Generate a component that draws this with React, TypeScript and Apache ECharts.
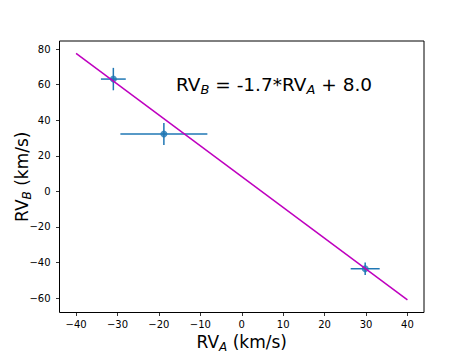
import React, { useEffect, useRef } from "react";
import * as echarts from "echarts";

const xVals = [-31.0, -18.8, 29.8];
const yVals = [63.1, 32.2, -43.5];
const xErr = [3.0, 10.5, 3.5];
const yErr = [6.3, 6.2, 3.5];
const fitX = [-40, 40];
const fitY = [77.5, -61];
const xTicks = [-40, -30, -20, -10, 0, 10, 20, 30, 40];
const yTicks = [-60, -40, -20, 0, 20, 40, 60, 80];

const BLUE = "#1f77b4";
const MAG = "#bf00bf";
const FONT = "DejaVu Sans";

const fmt = (v: number) => (v < 0 ? "\u2212" + Math.abs(v) : String(v));

const nameRich = {
  n: { fontSize: 17, fontFamily: FONT, color: "#000", lineHeight: 22 },
  s: { fontSize: 12, fontFamily: FONT, fontStyle: "italic", color: "#000", lineHeight: 12, verticalAlign: "bottom" },
};

export default function App() {
  const ref = useRef<HTMLDivElement>(null);
  useEffect(() => {
    const chart = echarts.init(ref.current!, null, { renderer: "svg" });
    const pts = xVals.map((x, i) => [x, yVals[i], xErr[i], yErr[i]]);
    const line = fitX.map((x, i) => [x, fitY[i]]);
    const axisCommon = {
      type: "value",
      splitLine: { show: false },
      axisLine: { show: false, onZero: false },
      axisTick: { show: true, inside: false, length: 3.5, lineStyle: { color: "#000", width: 0.8 } },
      axisLabel: { color: "#000", fontSize: 10, fontFamily: FONT, formatter: fmt },
    };
    chart.setOption({
      animation: false,
      grid: { left: 59.5, right: 47, top: 41, bottom: 39.5, show: true, borderColor: "#000", borderWidth: 1, backgroundColor: "transparent", outerBoundsMode: "none" },
      xAxis: {
        ...axisCommon,
        position: "bottom",
        min: -44,
        max: 44,
        axisTick: { ...axisCommon.axisTick, customValues: xTicks },
        axisLabel: { ...axisCommon.axisLabel, margin: 7, customValues: xTicks },
        name: "{n|RV}{s|A}{n| (km/s)}",
        nameLocation: "middle",
        nameGap: 18,
        nameMoveOverlap: false,
        nameTextStyle: { rich: nameRich },
      },
      yAxis: {
        ...axisCommon,
        position: "left",
        min: -68.1,
        max: 84.5,
        axisTick: { ...axisCommon.axisTick, customValues: yTicks },
        axisLabel: { ...axisCommon.axisLabel, margin: 9, customValues: yTicks },
        name: "{n|RV}{s|B}{n| (km/s)}",
        nameLocation: "middle",
        nameGap: 27,
        nameMoveOverlap: false,
        nameTextStyle: { rich: nameRich },
      },
      graphic: [
        {
          type: "text",
          left: 176,
          top: 75,
          style: {
            text: "{n|RV}{s|B}{n| = -1.7*RV}{s|A}{n| + 8.0}",
            rich: {
              n: { fontSize: 18.5, fontFamily: FONT, fill: "#000", lineHeight: 23 },
              s: { fontSize: 13, fontFamily: FONT, fontStyle: "italic", fill: "#000", lineHeight: 12, verticalAlign: "bottom" },
            },
          },
        },
      ],
      series: [
        {
          type: "custom",
          data: pts,
          encode: { x: 0, y: 1 },
          z: 2,
          renderItem: (params: any, api: any) => {
            const x = api.value(0), y = api.value(1), xe = api.value(2), ye = api.value(3);
            const l = api.coord([x - xe, y]);
            const r = api.coord([x + xe, y]);
            const t = api.coord([x, y + ye]);
            const b = api.coord([x, y - ye]);
            const st = { stroke: BLUE, lineWidth: 1.5 };
            return {
              type: "group",
              children: [
                { type: "line", shape: { x1: l[0], y1: l[1], x2: r[0], y2: r[1] }, style: st },
                { type: "line", shape: { x1: t[0], y1: t[1], x2: b[0], y2: b[1] }, style: st },
              ],
            };
          },
        },
        {
          type: "scatter",
          data: pts.map((p) => [p[0], p[1]]),
          symbol: "circle",
          symbolSize: 7,
          itemStyle: { color: BLUE },
          z: 3,
        },
        {
          type: "line",
          data: line,
          symbol: "none",
          lineStyle: { color: MAG, width: 1.5 },
          z: 4,
        },
      ],
    });
    return () => chart.dispose();
  }, []);
  return <div ref={ref} style={{ width: 471, height: 352, position: "absolute", left: 0, top: 0 }} />;
}
